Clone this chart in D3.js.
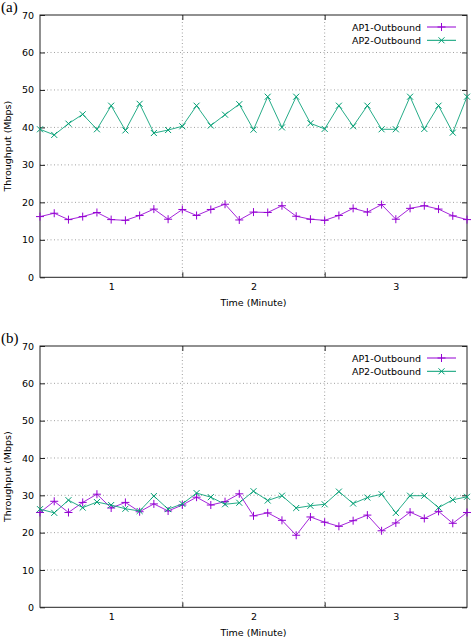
<!DOCTYPE html>
<html><head><meta charset="utf-8">
<script src="https://cdn.jsdelivr.net/npm/d3@7"></script>
<style>body{margin:0;background:#fff}svg{display:block}</style>
</head><body>
<script>
// time in minutes: 0.5 .. 3.5 step 0.1
const times = d3.range(31).map(i => +(0.5 + i / 10).toFixed(1));
const aAP1 = [16.2,17.1,15.4,16.2,17.3,15.4,15.2,16.5,18.2,15.5,18.1,16.5,18.1,19.5,15.3,
  17.4,17.3,19.1,16.3,15.5,15.2,16.5,18.4,17.4,19.4,15.5,18.4,19.1,18.2,16.4,15.4];
const aAP2 = [39.5,38.0,41.0,43.5,39.5,45.8,39.2,46.3,38.5,39.3,40.3,45.8,40.5,43.4,46.2,
  39.4,48.2,40.0,48.2,41.1,39.6,45.8,40.3,45.8,39.5,39.5,48.2,39.6,45.8,38.6,48.2];
const bAP1 = [25.4,28.4,25.4,28.1,30.3,26.6,28.1,25.6,27.7,25.8,27.4,29.5,27.4,28.3,30.4,
  24.5,25.3,23.3,19.3,24.2,22.8,21.7,23.2,24.7,20.5,22.6,25.5,23.8,25.7,22.5,25.4];
const bAP2 = [26.3,25.3,28.7,26.7,28.2,27.4,26.4,25.8,29.8,26.3,27.7,30.6,29.5,27.6,28.0,
  31.1,28.6,29.9,26.6,27.2,27.6,31.0,27.8,29.4,30.3,25.3,29.9,29.9,26.7,28.8,29.6];
const seriesNames = ["AP1-Outbound", "AP2-Outbound"];
const colors = ["#9400d3", "#009e73"];
const yTicks = [0,10,20,30,40,50,60,70];
const xLabels = [1,2,3];
const xGrid = [1.5,2.5];
const yTitle = "Throughput (Mbps)";
const xTitle = "Time (Minute)";

const W = 472, H = 642;
const svg = d3.select("body").append("svg").attr("width", W).attr("height", H);
const FONT = "DejaVu Sans";

function drawChart(tag, top, bottom, s1, s2) {
  const left = 40, right = 467;
  const x = d3.scaleLinear().domain([0.5, 3.5]).range([left, right]);
  const y = d3.scaleLinear().domain([0, 70]).range([bottom, top]);
  const g = svg.append("g");

  // panel tag
  g.append("text").attr("x", 1).attr("y", top - 3).attr("font-family", "Liberation Serif")
    .attr("font-size", 15).attr("fill", "#000").text(tag);

  // grid
  g.selectAll(".hg").data(yTicks.filter(v => v > 0 && v < 70)).join("line")
    .attr("x1", left).attr("x2", right).attr("y1", d => y(d)).attr("y2", d => y(d))
    .attr("stroke", "#a0a0a0").attr("stroke-width", 1).attr("stroke-dasharray", "1,2.5");
  g.selectAll(".vg").data(xGrid).join("line")
    .attr("x1", d => x(d)).attr("x2", d => x(d)).attr("y1", top).attr("y2", bottom)
    .attr("stroke", "#a0a0a0").attr("stroke-width", 1).attr("stroke-dasharray", "1,2.5");

  // axes via d3
  const yAxis = d3.axisLeft(y).tickValues(yTicks).tickSize(-5).tickPadding(6).tickFormat(d3.format("d"));
  g.append("g").attr("transform", `translate(${left},0)`).call(yAxis);
  g.append("g").attr("transform", `translate(${right},0)`)
    .call(d3.axisRight(y).tickValues(yTicks).tickSize(-5).tickFormat(""));
  g.append("g").attr("transform", `translate(0,${bottom})`)
    .call(d3.axisBottom(x).tickValues(xGrid).tickSize(-5).tickFormat(""));
  g.append("g").attr("transform", `translate(0,${top})`)
    .call(d3.axisTop(x).tickValues(xGrid).tickSize(-5).tickFormat(""));
  g.append("g").attr("transform", `translate(0,${bottom})`)
    .call(d3.axisBottom(x).tickValues(xLabels).tickSize(0).tickPadding(6).tickFormat(d3.format("d")));
  g.selectAll(".domain").remove();
  g.selectAll(".tick line").attr("stroke", "#222");
  g.selectAll(".tick text").attr("font-family", FONT).attr("font-size", 9.5).attr("fill", "#000");

  // border
  g.append("rect").attr("x", left).attr("y", top).attr("width", right - left).attr("height", bottom - top)
    .attr("fill", "none").attr("stroke", "#222").attr("stroke-width", 1);

  // titles
  g.append("text").attr("transform", `translate(10.5,${(top + bottom) / 2}) rotate(-90)`)
    .attr("text-anchor", "middle").attr("font-family", FONT).attr("font-size", 9.5).text(yTitle);
  g.append("text").attr("x", (left + right) / 2).attr("y", bottom + 29)
    .attr("text-anchor", "middle").attr("font-family", FONT).attr("font-size", 9.5).text(xTitle);

  const line = d3.line().x((d, i) => x(times[i])).y(d => y(d));
  const plus = (sel, c) => sel.each(function(d, i) {
    const cx = x(times[i]), cy = y(d), r = 4;
    d3.select(this).append("line").attr("x1", cx - r).attr("x2", cx + r).attr("y1", cy).attr("y2", cy).attr("stroke", c);
    d3.select(this).append("line").attr("x1", cx).attr("x2", cx).attr("y1", cy - r).attr("y2", cy + r).attr("stroke", c);
  });
  const cross = (sel, c) => sel.each(function(d, i) {
    const cx = x(times[i]), cy = y(d), r = 3;
    d3.select(this).append("line").attr("x1", cx - r).attr("x2", cx + r).attr("y1", cy - r).attr("y2", cy + r).attr("stroke", c);
    d3.select(this).append("line").attr("x1", cx - r).attr("x2", cx + r).attr("y1", cy + r).attr("y2", cy - r).attr("stroke", c);
  });

  [s1, s2].forEach((s, k) => {
    g.append("path").datum(s).attr("d", line).attr("fill", "none")
      .attr("stroke", colors[k]).attr("stroke-width", 1).attr("stroke-opacity", 0.85);
    const m = g.append("g").selectAll("g").data(s).join("g");
    (k === 0 ? plus : cross)(m, colors[k]);
  });

  // legend
  seriesNames.forEach((name, k) => {
    const ly = top + 12 + k * 13.3;
    g.append("text").attr("x", 421).attr("y", ly + 3.5).attr("text-anchor", "end")
      .attr("font-family", FONT).attr("font-size", 9.5).text(name);
    g.append("line").attr("x1", 427).attr("x2", 456).attr("y1", ly).attr("y2", ly)
      .attr("stroke", colors[k]).attr("stroke-width", 1);
    const lm = g.append("g");
    const cx = 441.5;
    if (k === 0) {
      lm.append("line").attr("x1", cx - 4).attr("x2", cx + 4).attr("y1", ly).attr("y2", ly).attr("stroke", colors[k]);
      lm.append("line").attr("x1", cx).attr("x2", cx).attr("y1", ly - 4).attr("y2", ly + 4).attr("stroke", colors[k]);
    } else {
      lm.append("line").attr("x1", cx - 3).attr("x2", cx + 3).attr("y1", ly - 3).attr("y2", ly + 3).attr("stroke", colors[k]);
      lm.append("line").attr("x1", cx - 3).attr("x2", cx + 3).attr("y1", ly + 3).attr("y2", ly - 3).attr("stroke", colors[k]);
    }
  });
}

drawChart("(a)", 15, 277.3, aAP1, aAP2);
drawChart("(b)", 346, 607.3, bAP1, bAP2);
</script>
</body></html>
